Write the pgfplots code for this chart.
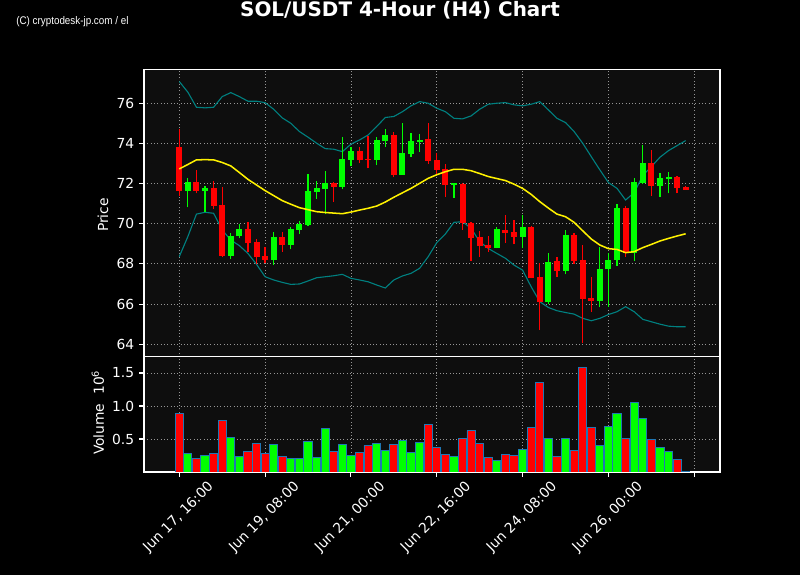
\documentclass[border=0pt]{standalone}
\usepackage{graphicx}
\usepackage{pgfplots}
\pgfplotsset{compat=1.18}
\usepackage{pgfplotstable}
\usepackage{fontspec}
\setmainfont{DejaVu Sans}
\newfontfamily\wmfont{Liberation Sans}

\definecolor{facebg}{RGB}{14,14,14}
\definecolor{gridc}{RGB}{150,150,150}
\definecolor{bandc}{RGB}{0,128,128}
\definecolor{candred}{RGB}{255,0,0}
\definecolor{candgreen}{RGB}{0,255,0}
\definecolor{edgeblue}{RGB}{31,119,180}

\pgfplotstableread{
i o h l c v
0 73.81 74.72 71.40 71.65 0.884
2 72.06 72.68 71.51 71.65 0.207
4 71.80 72.15 70.72 70.90 0.283
5 70.93 71.81 68.33 68.41 0.783
8 69.72 70.07 68.61 69.02 0.313
9 69.09 69.26 67.99 68.36 0.434
10 68.39 68.82 68.03 68.21 0.283
12 69.34 69.57 68.61 68.96 0.237
18 72.03 72.08 71.07 71.85 0.313
21 73.62 73.84 73.01 73.19 0.298
22 73.24 74.37 72.76 73.20 0.404
25 74.42 74.57 72.31 72.43 0.419
29 74.22 75.00 72.98 73.13 0.722
30 73.18 73.54 72.46 72.68 0.374
31 72.73 72.96 71.35 71.93 0.268
33 71.98 72.03 69.69 70.02 0.510
34 70.02 70.10 68.14 69.31 0.631
35 69.34 69.65 68.36 68.91 0.434
36 68.94 69.39 68.61 68.81 0.222
38 69.69 70.42 69.06 69.54 0.268
39 69.59 70.20 68.97 69.36 0.253
41 69.84 69.90 67.28 67.31 0.677
42 67.35 68.03 64.70 66.12 1.359
44 68.14 68.33 67.36 67.64 0.237
46 69.44 69.52 67.99 68.14 0.328
47 68.19 68.92 64.04 66.25 1.586
48 66.32 67.33 65.62 66.17 0.677
52 70.78 70.90 68.36 68.56 0.510
55 73.01 73.67 71.40 71.90 0.495
58 72.33 72.38 71.51 71.80 0.192
59 71.83 71.86 71.68 71.70 0.010
}\redtab

\pgfplotstableread{
i o h l c v
1 71.65 72.26 70.82 72.06 0.283
3 71.65 71.88 70.60 71.78 0.253
6 68.41 69.52 68.23 69.39 0.525
7 69.39 69.99 69.27 69.72 0.237
11 68.21 69.57 67.96 69.34 0.419
13 68.96 69.85 68.72 69.74 0.202
14 69.70 70.12 69.49 69.99 0.202
15 69.94 72.46 69.89 71.63 0.465
16 71.60 72.11 71.22 71.78 0.222
17 71.75 72.63 70.48 72.03 0.662
19 71.83 74.31 71.71 73.23 0.419
20 73.19 73.81 72.88 73.62 0.253
23 73.19 74.31 72.91 74.17 0.434
24 74.14 74.70 73.81 74.42 0.328
26 72.43 75.00 72.43 73.52 0.480
27 73.49 74.50 73.34 74.12 0.298
28 74.07 74.47 73.56 74.17 0.449
32 71.95 72.03 71.30 72.03 0.237
37 68.81 69.85 68.77 69.74 0.177
40 69.36 70.44 68.77 69.84 0.343
43 66.12 68.52 66.00 68.09 0.510
45 67.64 69.69 67.48 69.44 0.510
49 66.17 68.82 65.83 67.74 0.404
50 67.73 68.52 65.87 68.19 0.692
51 68.19 70.97 67.91 70.78 0.889
53 68.56 72.26 68.16 72.08 1.056
54 72.01 73.92 71.98 73.01 0.813
56 71.90 72.51 71.35 72.28 0.374
57 72.23 72.59 71.51 72.33 0.313
}\greentab

\pgfplotstableread{
i sma up lo
0 72.73 77.08 68.36
1 72.95 76.55 69.36
2 73.18 75.80 70.48
3 73.19 75.77 70.57
4 73.18 75.80 70.52
5 73.05 76.33 69.69
6 72.88 76.53 69.19
7 72.55 76.33 68.91
8 72.21 76.10 68.52
9 71.93 76.10 67.98
10 71.65 76.03 67.36
11 71.40 75.70 67.20
12 71.15 75.27 67.08
13 70.97 75.00 66.98
14 70.80 74.59 67.00
15 70.70 74.31 67.15
16 70.60 74.01 67.31
17 70.56 73.74 67.36
18 70.53 73.71 67.41
19 70.50 73.59 67.48
20 70.58 73.96 67.28
21 70.68 74.17 67.20
22 70.77 74.42 67.11
23 70.88 74.84 66.95
24 71.08 75.29 66.80
25 71.32 75.34 67.20
26 71.54 75.58 67.40
27 71.76 75.87 67.53
28 72.01 76.08 67.78
29 72.26 76.00 68.36
30 72.44 75.75 69.06
31 72.59 75.58 69.49
32 72.71 75.25 70.07
33 72.71 75.22 70.10
34 72.64 75.37 69.77
35 72.50 75.70 69.11
36 72.35 75.95 68.77
37 72.25 76.00 68.52
38 72.15 76.03 68.28
39 71.97 75.92 67.94
40 71.76 75.87 67.69
41 71.46 75.95 66.86
42 71.10 76.08 66.12
43 70.78 75.67 65.83
44 70.48 75.25 65.67
45 70.35 75.04 65.58
46 70.07 74.59 65.50
47 69.65 74.01 65.29
48 69.24 73.34 65.17
49 68.94 72.68 65.29
50 68.76 72.05 65.48
51 68.72 71.76 65.62
52 68.56 71.18 65.87
53 68.61 71.55 65.62
54 68.81 72.40 65.24
55 68.97 72.84 65.12
56 69.14 73.31 65.00
57 69.27 73.64 64.90
58 69.39 73.89 64.87
59 69.50 74.14 64.87
}\bandtab

\pgfplotsset{
  mpl/.style={
    scale only axis, width=416.28pt,
    xmin=-4.11, xmax=63.0,
    axis background/.style={fill=facebg},
    axis line style={white, line width=0.8pt},
    tick style={white, line width=0.8pt},
    tick align=outside, major tick length=3.6pt,
    tick pos=left,
    ticklabel style={white, font=\fontsize{10}{12}\selectfont},
    /pgf/number format/assume math mode=true,
    grid=major, major grid style={gridc, dotted, line width=0.6pt},
    xtick={0,10,20,30,40,50,60},
  },
  wick/.style={draw=none, mark=none, forget plot,
    error bars/.cd, y dir=plus, y explicit, error mark=none,
    error bar style={draw=#1, line width=0.9pt}},
  body/.style={draw=none, mark=none, forget plot,
    error bars/.cd, y dir=plus, y explicit, error mark=none,
    error bar style={draw=#1, line width=4.34pt, line cap=butt}},
}

\begin{document}
\begin{tikzpicture}
\path[use as bounding box, fill=black] (0,0) rectangle (578.16pt,415.55pt);
\node[white, font=\bfseries\fontsize{14.4}{17}\selectfont, anchor=base] at (289.08pt,403.3pt) {SOL/USDT 4-Hour (H4) Chart};
\node[white, anchor=base west, inner sep=0pt, font=\wmfont\fontsize{8}{9}\selectfont] at (11.56pt,397.6pt) {\scalebox{0.89}[1]{(C) cryptodesk-jp.com / el}};

\begin{axis}[mpl, at={(104.07pt,365.47pt)}, anchor=north west, height=207.7pt,
  ymin=63.38, ymax=77.69, ytick={64,66,68,70,72,74,76},
  xticklabels={}, x tick style={draw=none},
  ylabel={Price},
  ylabel style={at={(axis description cs:-0.0712,0.493)}, anchor=center, text=white, font=\fontsize{10}{12}\selectfont},
]
\addplot[bandc, line width=0.8pt, mark=none] table[x=i, y=up] {\bandtab};
\addplot[bandc, line width=0.8pt, mark=none] table[x=i, y=lo] {\bandtab};
\addplot[wick=candred] table[x=i, y=l, y error plus expr=\thisrow{h}-\thisrow{l}] {\redtab};
\addplot[wick=candgreen] table[x=i, y=l, y error plus expr=\thisrow{h}-\thisrow{l}] {\greentab};
\addplot[body=candred] table[x=i, y=c, y error plus expr=\thisrow{o}-\thisrow{c}] {\redtab};
\addplot[body=candgreen] table[x=i, y=o, y error plus expr=\thisrow{c}-\thisrow{o}] {\greentab};
\addplot[yellow, line width=1.1pt, mark=none] table[x=i, y=sma] {\bandtab};
\end{axis}

\begin{axis}[mpl, at={(104.07pt,157.77pt)}, anchor=north west, height=83.33pt,
  ymin=0, ymax=1.747, ytick={0.5,1.0,1.5},
  yticklabel style={/pgf/number format/.cd, fixed, fixed zerofill, precision=1},
  xticklabels={{Jun 17, 16:00},{Jun 19, 08:00},{Jun 21, 00:00},{Jun 22, 16:00},{Jun 24, 08:00},{Jun 26, 00:00},{}},
  xticklabel style={rotate=45, anchor=center, xshift=-20.9pt, yshift=-20.3pt},
  ylabel={Volume\ \ 10\textsuperscript{6}},
  ylabel style={at={(axis description cs:-0.0799,0.515)}, anchor=center, text=white, font=\fontsize{10}{12}\selectfont},
]
\addplot[ybar, bar width=0.96, bar shift=0pt, fill=candred, draw=edgeblue, line width=0.7pt] table[x=i, y=v] {\redtab};
\addplot[ybar, bar width=0.96, bar shift=0pt, fill=candgreen, draw=edgeblue, line width=0.7pt] table[x=i, y=v] {\greentab};
\end{axis}
\end{tikzpicture}
\end{document}
